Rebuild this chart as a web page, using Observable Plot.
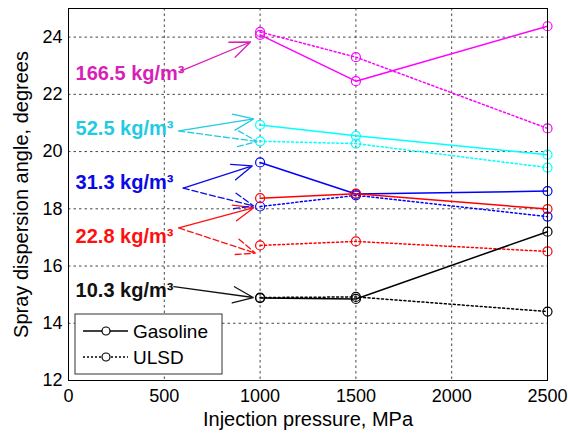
<!DOCTYPE html>
<html><head><meta charset="utf-8">
<script src="https://cdn.jsdelivr.net/npm/d3@7"></script>
<script src="https://cdn.jsdelivr.net/npm/@observablehq/plot@0.6"></script>
<style>body{margin:0;background:#fff}</style>
</head><body><div id="chart"></div>
<script>
const pressures = [1000, 1500, 2500];
const densities = ["166.5", "52.5", "31.3", "22.8", "10.3"];
const lineColors = ["#ff00ff", "#00ffff", "#0000ff", "#ff0000", "#000000"];
const labelColors = ["#d81fb8", "#1fcbe0", "#0a0ae6", "#ff1010", "#111111"];
const gasoline = [
  [24.08, 22.46, 24.38],
  [20.93, 20.55, 19.89],
  [19.62, 18.52, 18.62],
  [18.37, 18.53, 17.99],
  [14.88, 14.85, 17.20]
];
const ulsd = [
  [24.18, 23.30, 20.81],
  [20.36, 20.28, 19.44],
  [18.08, 18.47, 17.73],
  [16.72, 16.86, 16.51],
  [14.90, 14.92, 14.41]
];
// annotation labels (data units)
const labelX = [37, 37, 37, 37, 37];
const labelY = [22.74, 20.79, 18.90, 17.02, 15.14];
// annotation arrows: label index, start/end in data units, dashed flag
const arrowSeries = [0, 1, 1, 2, 2, 3, 3, 4];
const arrowX1 = [585, 576, 576, 599, 599, 576, 576, 550];
const arrowY1 = [22.81, 20.72, 20.72, 18.72, 18.72, 17.33, 17.33, 15.28];
const arrowX2 = [950, 966, 985, 959, 966, 967, 976, 964];
const arrowY2 = [23.83, 21.14, 20.35, 19.50, 18.10, 18.04, 16.45, 14.90];
const arrowDashed = [false, false, true, false, true, false, true, false];
const xTicks = [0, 500, 1000, 1500, 2000, 2500];
const yTicks = [12, 14, 16, 18, 20, 22, 24];
const xLabel = "Injection pressure, MPa";
const yLabel = "Spray dispersion angle, degrees";

const rows = (vals, fuel) => vals.flatMap((s, i) => s.map((v, j) => ({p: pressures[j], v, d: densities[i], c: lineColors[i], fuel})));
const gas = rows(gasoline, "Gasoline");
const ul = rows(ulsd, "ULSD");
const arrows = arrowSeries.map((s, i) => ({x1: arrowX1[i], y1: arrowY1[i], x2: arrowX2[i], y2: arrowY2[i], c: labelColors[s], dashed: arrowDashed[i]}));
const labels = densities.map((d, i) => ({x: labelX[i], y: labelY[i], t: d + " kg/m³", c: labelColors[i]}));

const plot = Plot.plot({
  width: 568, height: 433,
  marginLeft: 68, marginTop: 8, marginRight: 21, marginBottom: 53,
  style: {fontFamily: "'Liberation Sans', Arial, sans-serif", fontSize: "18px", color: "#000", background: "#fff"},
  x: {domain: [0, 2500]},
  y: {domain: [12, 25]},
  marks: [
    Plot.ruleX([500, 1000, 1500, 2000], {stroke: "#333", strokeDasharray: "2.5,3", strokeWidth: 1, strokeOpacity: 0.9}),
    Plot.ruleY([14, 16, 18, 20, 22, 24], {stroke: "#333", strokeDasharray: "2.5,3", strokeWidth: 1, strokeOpacity: 0.9}),
    Plot.axisX({ticks: xTicks, tickSize: 0, tickPadding: 9, label: null, tickFormat: d => String(d)}),
    Plot.axisY({ticks: yTicks, tickSize: 0, tickPadding: 6, label: null, tickFormat: d => String(d)}),
    Plot.text([xLabel], {frameAnchor: "bottom", dy: 39, fontSize: 20, fill: "#000", textAnchor: "middle", lineAnchor: "middle"}),
    Plot.text([yLabel], {frameAnchor: "left", dx: -47, rotate: -90, fontSize: 20, fill: "#000", textAnchor: "middle", lineAnchor: "middle"}),
    Plot.line(ul, {x: "p", y: "v", z: "d", stroke: "c", strokeWidth: 1.5, strokeDasharray: "2,2.5"}),
    Plot.line(gas, {x: "p", y: "v", z: "d", stroke: "c", strokeWidth: 1.5}),
    Plot.dot(ul, {x: "p", y: "v", stroke: "c", r: 4.5, strokeWidth: 1.2}),
    Plot.dot(gas, {x: "p", y: "v", stroke: "c", r: 4.5, strokeWidth: 1.2}),
    Plot.arrow(arrows.filter(a => !a.dashed), {x1: "x1", y1: "y1", x2: "x2", y2: "y2", stroke: "c", strokeWidth: 1.3, headLength: 25, headAngle: 44}),
    Plot.arrow(arrows.filter(a => a.dashed), {x1: "x1", y1: "y1", x2: "x2", y2: "y2", stroke: "c", strokeWidth: 1.3, headLength: 25, headAngle: 44, strokeDasharray: "6,3"}),
    Plot.text(labels, {x: "x", y: "y", text: "t", fill: "c", textAnchor: "start", fontWeight: "bold", fontSize: 20}),
    Plot.frame({stroke: "#000", strokeWidth: 1})
  ]
});
document.getElementById("chart").appendChild(plot);

// MATLAB-style legend box in the lower-left of the axes
const svg = d3.select(plot);
const lg = svg.append("g").attr("font-family", "'Liberation Sans', Arial, sans-serif").attr("font-size", 19).attr("text-anchor", "start");
lg.append("rect").attr("x", 75).attr("y", 314).attr("width", 147).attr("height", 60).attr("fill", "#fff").attr("stroke", "#333").attr("stroke-width", 1);
[["Gasoline", null, 331], ["ULSD", "2,2", 357]].forEach(([name, dash, yy]) => {
  lg.append("line").attr("x1", 83).attr("x2", 128).attr("y1", yy).attr("y2", yy).attr("stroke", "#000").attr("stroke-width", 1.3).attr("stroke-dasharray", dash);
  lg.append("circle").attr("cx", 106).attr("cy", yy).attr("r", 4).attr("fill", "#fff").attr("stroke", "#000").attr("stroke-width", 1.2);
  lg.append("text").attr("x", 133).attr("y", yy).attr("dy", "0.35em").attr("text-anchor", "start").attr("fill", "#000").text(name);
});
</script>
</body></html>
